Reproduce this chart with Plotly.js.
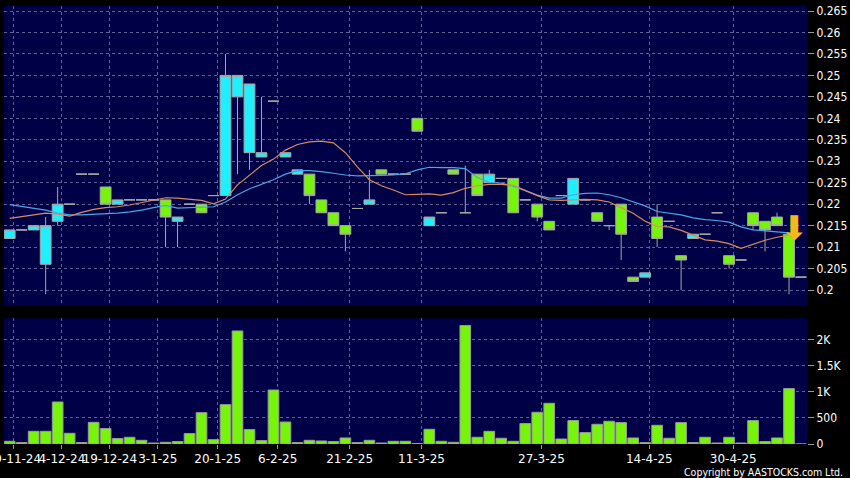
<!DOCTYPE html>
<html>
<head>
<meta charset="utf-8">
<script src="https://cdn.plot.ly/plotly-3.0.1.min.js"></script>
<style>
html,body{margin:0;padding:0;background:#000;}
#chart{width:850px;height:478px;}
</style>
</head>
<body>
<div id="chart"></div>
<script>
// ---- data (one entry per trading day shown, left to right) ----
const dayIndex = Array.from({length: 67}, (_, i) => i);
const openP  = [0.212,0.214,0.214,0.206,0.216,0.220,0.227,0.227,0.224,0.220,0.221,0.221,0.221,0.221,0.216,0.220,0.220,0.222,0.222,0.245,0.232,0.231,0.244,0.231,0.227,0.227,0.221,0.218,0.215,0.219,0.220,0.228,0.227,0.227,0.240,0.215,0.218,0.228,0.218,0.227,0.225,0.226,0.226,0.221,0.220,0.216,0.222,0.220,0.221,0.218,0.215,0.220,0.203,0.203,0.217,0.216,0.208,0.212,0.213,0.218,0.208,0.207,0.218,0.216,0.217,0.213,0.203];
const closeP = [0.214,0.214,0.215,0.215,0.220,0.220,0.227,0.227,0.220,0.221,0.221,0.221,0.221,0.217,0.217,0.220,0.218,0.222,0.250,0.250,0.248,0.232,0.244,0.232,0.228,0.222,0.218,0.215,0.213,0.219,0.221,0.227,0.227,0.227,0.237,0.217,0.218,0.227,0.218,0.222,0.227,0.226,0.218,0.221,0.217,0.214,0.222,0.226,0.221,0.216,0.215,0.213,0.202,0.204,0.212,0.216,0.207,0.213,0.213,0.218,0.206,0.207,0.215,0.214,0.215,0.203,0.203];
const highP  = [0.214,0.214,0.215,0.217,0.224,0.220,0.227,0.227,0.224,0.221,0.221,0.221,0.221,0.221,0.217,0.220,0.220,0.222,0.255,0.250,0.248,0.245,0.244,0.232,0.228,0.227,0.221,0.218,0.215,0.219,0.228,0.228,0.227,0.227,0.240,0.217,0.218,0.228,0.229,0.227,0.228,0.226,0.226,0.221,0.220,0.216,0.222,0.226,0.221,0.218,0.215,0.220,0.203,0.204,0.220,0.216,0.208,0.213,0.213,0.218,0.208,0.207,0.218,0.216,0.218,0.213,0.203];
const lowP   = [0.212,0.214,0.214,0.199,0.215,0.220,0.227,0.227,0.220,0.220,0.221,0.221,0.221,0.210,0.210,0.220,0.218,0.222,0.222,0.227,0.228,0.231,0.244,0.231,0.227,0.220,0.218,0.215,0.209,0.219,0.220,0.227,0.227,0.227,0.237,0.215,0.218,0.227,0.218,0.222,0.225,0.226,0.218,0.221,0.216,0.214,0.222,0.220,0.221,0.216,0.214,0.207,0.202,0.203,0.210,0.216,0.200,0.212,0.213,0.218,0.205,0.207,0.214,0.209,0.215,0.199,0.203];
const volume = [52,27,244,244,808,206,27,417,296,104,129,71,19,33,46,200,603,84,757,2173,277,65,1038,423,27,71,58,46,116,27,71,19,52,52,8,283,52,33,2277,129,244,110,52,392,610,783,96,450,219,379,437,411,116,27,360,110,411,27,129,19,129,19,450,46,116,1065,0];
const maShort = [0.2167,0.2171,0.2176,0.2179,0.2177,0.2172,0.2181,0.2188,0.2192,0.2194,0.2198,0.2204,0.2209,0.2215,0.2214,0.2212,0.2209,0.2201,0.2212,0.2245,0.2268,0.2290,0.2305,0.2326,0.2339,0.2345,0.2347,0.2343,0.2320,0.2287,0.2257,0.2243,0.2233,0.2222,0.2223,0.2224,0.2221,0.2227,0.2237,0.2243,0.2246,0.2246,0.2244,0.2232,0.2220,0.2210,0.2209,0.2210,0.2211,0.2210,0.2205,0.2192,0.2179,0.2160,0.2148,0.2147,0.2139,0.2128,0.2117,0.2114,0.2108,0.2097,0.2106,0.2116,0.2123,0.2128,null];
const maLong = [0.2199,0.2195,0.2191,0.2186,0.2179,0.2175,0.2175,0.2176,0.2177,0.2179,0.2182,0.2186,0.2192,0.2197,0.2191,0.2192,0.2193,0.2194,0.2205,0.2222,0.2236,0.2247,0.2257,0.2270,0.2278,0.2278,0.2276,0.2272,0.2268,0.2266,0.2266,0.2267,0.2268,0.2271,0.2280,0.2286,0.2285,0.2285,0.2283,0.2262,0.2251,0.2249,0.2242,0.2232,0.2221,0.2214,0.2214,0.2222,0.2225,0.2226,0.2222,0.2215,0.2206,0.2196,0.2183,0.2179,0.2175,0.2168,0.2164,0.2162,0.2158,0.2147,0.2140,0.2138,0.2136,0.2133,null];
const dateTickPos = [0.35,4.35,8.35,12.35,17.35,22.35,28.35,34.35,44.35,53.35,60.35];
const dateTickText = ['19-11-24','4-12-24','19-12-24','3-1-25','20-1-25','6-2-25','21-2-25','11-3-25','27-3-25','14-4-25','30-4-25'];
const priceTicks = [0.2,0.205,0.21,0.215,0.22,0.225,0.23,0.235,0.24,0.245,0.25,0.255,0.26,0.265];
const priceTickText = ['0.2','0.205','0.21','0.215','0.22','0.225','0.23','0.235','0.24','0.245','0.25','0.255','0.26','0.265'];
const volTicks = [0,500,1000,1500,2000];
const volTickText = ['0','500','1K','1.5K','2K'];

const FONT_C = '"DejaVu Sans Condensed", "DejaVu Sans", sans-serif';
const FONT_N = '"DejaVu Sans", sans-serif';
const GRID = 'rgba(130,130,175,0.75)';
const last = dayIndex.length - 2;

const traces = [
  {
    type: 'candlestick', x: dayIndex, open: openP, high: highP, low: lowP, close: closeP,
    xaxis: 'x', yaxis: 'y',
    increasing: {line: {color: '#a8a8a8', width: 1}, fillcolor: '#1ef0ff'},
    decreasing: {line: {color: '#a8a8a8', width: 1}, fillcolor: '#76f50a'},
    whiskerwidth: 0, hoverinfo: 'skip', showlegend: false
  },
  {
    type: 'scatter', mode: 'lines', x: dayIndex, y: maLong, xaxis: 'x', yaxis: 'y',
    line: {color: '#4aa6e6', width: 1.2}, hoverinfo: 'skip', showlegend: false
  },
  {
    type: 'scatter', mode: 'lines', x: dayIndex, y: maShort, xaxis: 'x', yaxis: 'y',
    line: {color: '#d98a5e', width: 1.2}, hoverinfo: 'skip', showlegend: false
  },
  {
    type: 'bar', x: dayIndex, y: volume, xaxis: 'x', yaxis: 'y2',
    marker: {color: '#76f50a', line: {color: '#9a9a9a', width: 1}},
    hoverinfo: 'skip', showlegend: false
  }
];

const layout = {
  width: 850, height: 478,
  margin: {l: 4, r: 43, t: 6, b: 34},
  paper_bgcolor: '#000000',
  plot_bgcolor: '#000046',
  font: {family: FONT_C, color: '#ffffff', size: 11},
  showlegend: false,
  bargap: 0.11,
  boxgap: 0.1, boxgroupgap: 0,
  xaxis: {
    range: [-0.475, 66.5], anchor: 'y2', rangeslider: {visible: false},
    tickmode: 'array', tickvals: dateTickPos, ticktext: dateTickText,
    tickangle: 0, ticklabeloverflow: 'allow',
    ticks: 'outside', ticklen: 4, tickcolor: '#9a9a9a',
    tickfont: {family: FONT_N, size: 12, color: '#ffffff'},
    showgrid: true, gridcolor: GRID, griddash: '3px,3px', gridwidth: 1,
    zeroline: false, showline: false, fixedrange: true
  },
  yaxis: {
    domain: [0.315, 1], range: [0.19627, 0.26617], side: 'right', anchor: 'x',
    tickmode: 'array', tickvals: priceTicks, ticktext: priceTickText,
    ticks: 'outside', ticklen: 6, tickcolor: '#9a9a9a',
    tickfont: {family: FONT_C, size: 12, color: '#ffffff'},
    showgrid: true, gridcolor: GRID, griddash: '3px,3px', gridwidth: 1,
    zeroline: false, showline: false, fixedrange: true
  },
  yaxis2: {
    domain: [0, 0.287], range: [0, 2417], side: 'right', anchor: 'x',
    tickmode: 'array', tickvals: volTicks, ticktext: volTickText,
    ticks: 'outside', ticklen: 6, tickcolor: '#9a9a9a',
    tickfont: {family: FONT_C, size: 12, color: '#ffffff'},
    showgrid: true, gridcolor: GRID, griddash: '3px,3px', gridwidth: 1,
    zeroline: false, showline: false, fixedrange: true
  },
  annotations: [
    {
      xref: 'paper', yref: 'paper', x: 1.047, y: -0.063, xanchor: 'right', yanchor: 'middle',
      text: 'Copyright by AASTOCKS.com Ltd.', showarrow: false,
      font: {family: FONT_C, size: 10.5, color: '#ffffff'}
    },
    {
      xref: 'x', yref: 'y', x: dayIndex[last], y: openP[last], xanchor: 'center', yanchor: 'bottom',
      xshift: 5, yshift: -16,
      text: '⬇', showarrow: false,
      font: {family: FONT_N, size: 34, color: '#f2b81c'}
    }
  ]
};

Plotly.newPlot('chart', traces, layout, {displayModeBar: false, staticPlot: true});
</script>
</body>
</html>
